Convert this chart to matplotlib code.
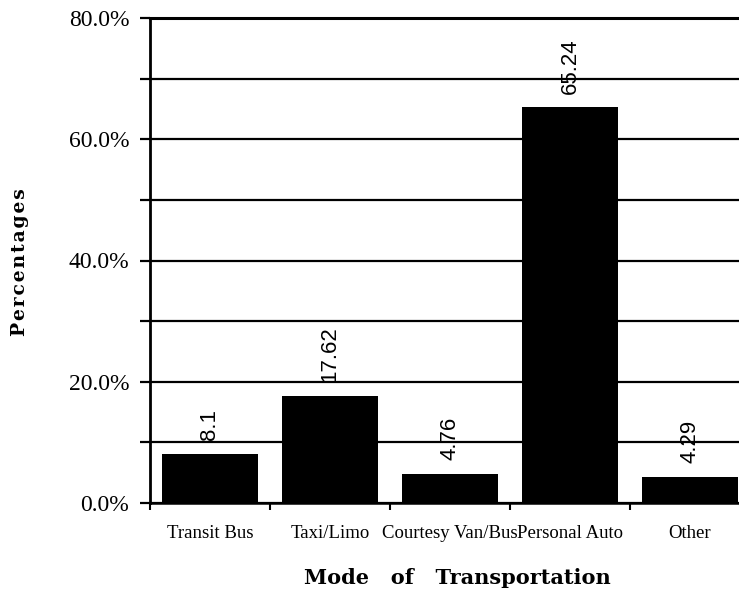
import matplotlib
matplotlib.use("Agg")
import matplotlib.pyplot as plt
from matplotlib import font_manager
from matplotlib.ticker import MultipleLocator, FuncFormatter

# Mode share data
modes = ["Transit Bus", "Taxi/Limo", "Courtesy Van/Bus", "Personal Auto", "Other"]
shares = [8.1, 17.62, 4.76, 65.24, 4.29]
value_labels = ["8.1", "17.62", "4.76", "65.24", "4.29"]

installed = {f.name for f in font_manager.fontManager.ttflist}
label_font = "Liberation Sans Narrow" if "Liberation Sans Narrow" in installed else "Liberation Sans"
label_size = 18 if label_font == "Liberation Sans Narrow" else 16

fig = plt.figure(figsize=(7.39, 5.96), dpi=100)
ax = fig.add_axes([150 / 739, 93 / 596, 600 / 739, 485 / 596])

x = list(range(len(modes)))
ax.bar(x, shares, width=0.8, color="black", zorder=3)

for xi, v, lab in zip(x, shares, value_labels):
    ax.annotate(lab, (xi, v), xytext=(0, 10), textcoords="offset points",
                rotation=90, ha="center", va="bottom",
                fontsize=label_size, family=label_font, zorder=4)

ax.set_xlim(-0.5, 4.5)
ax.set_ylim(0, 80)

# y axis: labelled every 20 %, gridline every 10 %
ax.yaxis.set_major_locator(MultipleLocator(20))
ax.yaxis.set_minor_locator(MultipleLocator(10))
ax.yaxis.set_major_formatter(FuncFormatter(lambda v, p: f"{v:.1f}%"))
ax.grid(axis="y", which="both", color="black", linewidth=1.6, zorder=1)
ax.axhline(80, color="black", linewidth=2.2, clip_on=False, zorder=1)
ax.tick_params(axis="y", which="both", direction="out", length=7, width=1.6,
               pad=8, labelsize=17)
for lab in ax.get_yticklabels():
    lab.set_family("Liberation Serif")

# x axis: category names centred, small tick marks between categories
ax.set_xticks(x)
ax.set_xticklabels(modes, family="Liberation Serif", fontsize=13.5)
ax.set_xticks([-0.5, 0.5, 1.5, 2.5, 3.5], minor=True)
ax.tick_params(axis="x", which="major", length=0, pad=16)
ax.tick_params(axis="x", which="minor", direction="out", length=5, width=1.5)

for side in ("top", "right"):
    ax.spines[side].set_visible(False)
ax.spines["left"].set_linewidth(2)
ax.spines["bottom"].set_linewidth(1.8)
ax.spines["left"].set_zorder(5)

# letter-spaced axis title (hair spaces between letters)
ytitle = "\u200a".join("Percentages")
fig.text(20 / 739, 1 - 262 / 596, ytitle, rotation=90,
         ha="center", va="center", fontsize=13.5, fontweight="bold",
         family="DejaVu Serif")
fig.text(457 / 739, 1 - 578 / 596, "Mode   of   Transportation",
         ha="center", va="center", fontsize=15, fontweight="bold",
         family="DejaVu Serif")

fig.savefig("out.png", dpi=100)
